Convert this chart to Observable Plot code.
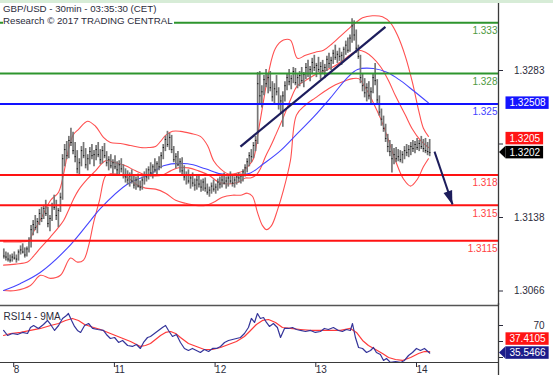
<!DOCTYPE html>
<html><head><meta charset="utf-8">
<script src="https://cdn.jsdelivr.net/npm/d3@7"></script>
<script src="https://cdn.jsdelivr.net/npm/@observablehq/plot@0.6"></script>
<style>
html,body{margin:0;padding:0;background:#fff;}
#wrap{position:relative;width:553px;height:375px;overflow:hidden;font-family:"Liberation Sans",Arial,sans-serif;}
#band{position:absolute;left:0;top:0;width:553px;height:3px;background:#d7ecd7;}
#title{position:absolute;left:3px;top:2.75px;background:#fff;font-size:9.7px;line-height:12.5px;color:#2b2b3b;padding-right:1px;}
#main{position:absolute;left:0;top:0;}
#rsi{position:absolute;left:0;top:303px;}
</style></head><body>
<div id="wrap"><div id="main"></div><div id="rsi"></div><div id="band"></div><div id="title"></div></div>
<script>
const titleLines = ["GBP/USD - 30min - 03:35:30 (CET)", "Research \u00a9 2017 TRADING CENTRAL"];
const rsiTitle = "RSI14 - 9MA";
const dayTicks = [0, 48, 96, 144, 192];
const dayLabels = ["8", "11", "12", "13", "14"];
const priceTicks = [1.3283, 1.32105, 1.3138, 1.30655];
const priceTickLabels = ["1.3283", "", "1.3138", "1.3066"];
const rsiTicks = [70, 50, 30];
const rsiTickLabels = ["70", "", ""];

const firstBar = -4;
const highs = [1.3107,1.3104,1.3103,1.3101,1.3102,1.3104,1.3101,1.3106,1.3110,1.3112,1.3108,1.3109,1.3118,
1.3130,1.3135,1.3140,1.3137,1.3146,1.3148,
1.3150,1.3155,1.3148,1.3140,1.3152,1.3160,1.3155,1.3147,1.3162,1.3200,
1.3210,1.3213,1.3218,1.3226,1.3222,1.3212,
1.3204,1.3196,1.3208,1.3212,1.3206,1.3200,1.3207,
1.3210,1.3204,1.3209,1.3212,1.3205,1.3208,1.3211,1.3203,
1.3198,1.3200,1.3195,1.3199,1.3193,1.3194,1.3196,1.3190,1.3186,
1.3184,1.3182,1.3185,1.3180,1.3178,1.3181,1.3174,1.3178,1.3183,1.3186,
1.3188,1.3192,1.3190,1.3196,1.3193,1.3198,1.3202,
1.3210,1.3218,1.3223,1.3221,1.3219,
1.3208,1.3201,1.3203,1.3196,1.3197,1.3189,
1.3183,1.3185,1.3180,1.3182,1.3176,1.3179,1.3180,1.3175,1.3176,
1.3177,1.3171,1.3168,1.3172,1.3175,1.3171,1.3176,1.3178,
1.3179,1.3182,1.3178,1.3180,1.3183,1.3179,1.3178,1.3181,1.3182,1.3181,1.3185,1.3190,
1.3196,1.3202,1.3205,1.3212,1.3218,
1.3281,
1.3282,1.3268,1.3278,1.3284,1.3280,1.3282,1.3272,
1.3270,1.3278,1.3266,1.3258,1.3262,
1.3272,1.3280,1.3284,1.3278,1.3286,1.3285,1.3279,
1.3282,1.3286,1.3281,1.3290,1.3293,1.3287,1.3295,1.3298,1.3290,1.3296,1.3291,1.3293,1.3289,1.3297,1.3300,1.3296,
1.3303,1.3308,1.3302,1.3305,1.3301,1.3306,1.3312,1.3315,1.3318,
1.3334,1.3332,
1.3323,1.3308,
1.3298,1.3280,
1.3275,1.3270,1.3272,1.3266,1.3280,
1.3290,
1.3274,1.3258,1.3245,1.3238,
1.3230,1.3220,1.3214,
1.3210,1.3206,1.3207,
1.3205,1.3204,1.3203,1.3208,1.3210,1.3209,
1.3212,1.3214,1.3213,1.3216,1.3214,1.3218,1.3215,1.3216,1.3212,1.3215];
const lows = [1.3097,1.3095,1.3094,1.3093,1.3094,1.3096,1.3093,1.3095,1.3101,1.3102,1.3098,1.3099,1.3103,
1.3108,1.3120,1.3125,1.3122,1.3130,1.3133,
1.3136,1.3139,1.3128,1.3124,1.3134,1.3145,1.3135,1.3128,1.3143,1.3155,
1.3188,1.3195,1.3196,1.3208,1.3200,1.3192,
1.3181,1.3180,1.3188,1.3196,1.3186,1.3184,1.3190,
1.3195,1.3188,1.3194,1.3197,1.3190,1.3191,1.3196,1.3188,
1.3184,1.3186,1.3181,1.3185,1.3179,1.3180,1.3182,1.3176,1.3172,
1.3170,1.3168,1.3171,1.3166,1.3165,1.3167,1.3164,1.3165,1.3170,1.3173,
1.3175,1.3178,1.3176,1.3182,1.3180,1.3184,1.3186,
1.3195,1.3203,1.3207,1.3204,1.3201,
1.3192,1.3186,1.3188,1.3182,1.3180,1.3174,
1.3170,1.3171,1.3166,1.3168,1.3164,1.3165,1.3167,1.3163,1.3164,
1.3163,1.3160,1.3158,1.3161,1.3163,1.3161,1.3164,1.3166,
1.3167,1.3170,1.3166,1.3168,1.3171,1.3168,1.3167,1.3170,1.3172,1.3171,1.3173,1.3178,
1.3182,1.3188,1.3192,1.3196,1.3203,
1.3210,
1.3250,1.3246,1.3258,1.3266,1.3260,1.3262,1.3252,
1.3250,1.3258,1.3244,1.3240,1.3227,
1.3252,1.3263,1.3268,1.3264,1.3270,1.3268,1.3265,
1.3267,1.3270,1.3266,1.3274,1.3276,1.3272,1.3279,1.3282,1.3276,1.3281,1.3274,1.3279,1.3275,1.3282,1.3285,1.3283,
1.3289,1.3293,1.3290,1.3292,1.3288,1.3293,1.3298,1.3300,1.3301,
1.3310,1.3312,
1.3300,1.3294,
1.3270,1.3262,
1.3256,1.3252,1.3254,1.3250,1.3260,
1.3268,
1.3250,1.3238,1.3228,1.3222,
1.3212,1.3202,1.3198,
1.3182,1.3190,1.3192,
1.3193,1.3192,1.3191,1.3195,1.3198,1.3197,
1.3199,1.3202,1.3201,1.3204,1.3203,1.3205,1.3202,1.3201,1.3199,1.3198];
const closes = [1.3100,1.3099,1.3097,1.3096,1.3099,1.3098,1.3097,1.3104,1.3106,1.3104,1.3101,1.3107,1.3115,
1.3126,1.3131,1.3128,1.3134,1.3142,1.3137,
1.3147,1.3142,1.3132,1.3137,1.3150,1.3148,1.3140,1.3145,1.3158,1.3196,
1.3205,1.3199,1.3214,1.3212,1.3204,1.3198,
1.3186,1.3192,1.3204,1.3199,1.3190,1.3196,1.3203,
1.3199,1.3200,1.3205,1.3200,1.3195,1.3204,1.3199,1.3192,
1.3195,1.3189,1.3192,1.3188,1.3185,1.3190,1.3186,1.3180,1.3178,
1.3175,1.3179,1.3174,1.3170,1.3175,1.3169,1.3168,1.3175,1.3180,1.3178,
1.3185,1.3182,1.3188,1.3185,1.3191,1.3188,1.3199,
1.3207,1.3215,1.3210,1.3217,1.3205,
1.3195,1.3198,1.3190,1.3193,1.3184,1.3178,
1.3180,1.3174,1.3177,1.3172,1.3170,1.3175,1.3171,1.3168,1.3173,
1.3167,1.3163,1.3165,1.3169,1.3166,1.3168,1.3173,1.3171,
1.3175,1.3172,1.3174,1.3177,1.3174,1.3172,1.3175,1.3178,1.3177,1.3179,1.3183,1.3187,
1.3193,1.3199,1.3198,1.3209,1.3214,
1.3270,
1.3258,1.3262,1.3274,1.3270,1.3276,1.3266,1.3257,
1.3265,1.3262,1.3250,1.3253,1.3258,
1.3268,1.3276,1.3272,1.3275,1.3282,1.3271,1.3276,
1.3278,1.3273,1.3279,1.3286,1.3280,1.3284,1.3291,1.3286,1.3288,1.3284,1.3287,1.3283,1.3286,1.3294,1.3290,1.3293,
1.3300,1.3296,1.3299,1.3297,1.3298,1.3304,1.3308,1.3303,1.3315,
1.3327,1.3318,
1.3305,1.3297,
1.3276,1.3268,
1.3261,1.3266,1.3258,1.3262,1.3276,
1.3273,
1.3254,1.3242,1.3235,1.3226,
1.3216,1.3208,1.3203,
1.3196,1.3200,1.3196,
1.3198,1.3195,1.3200,1.3204,1.3202,1.3205,
1.3208,1.3206,1.3210,1.3207,1.3211,1.3208,1.3206,1.3204,1.3203,1.3202];

const upperBand = [[-4.1,1.3114],[4.0,1.3114],[7.8,1.3115],[10.2,1.3124],[13.5,1.3136],[18.3,1.3155],[22.1,1.3163],[24.5,1.3181],[26.8,1.3205],[29.2,1.3220],[31.6,1.3225],[35.9,1.3233],[39.7,1.3228],[43.5,1.3217],[46.8,1.3212],[51.6,1.3211],[56.4,1.3209],[61.1,1.3207],[64.9,1.3207],[68.3,1.3208],[70.7,1.3213],[73.1,1.3219],[76.4,1.3223],[80.2,1.3223],[85.0,1.3221],[89.7,1.3218],[93.1,1.3209],[96.0,1.3194],[99.3,1.3186],[103.1,1.3181],[107.4,1.3182],[110.2,1.3184],[112.6,1.3189],[115.0,1.3196],[117.4,1.3224],[119.8,1.3253],[122.2,1.3281],[125.5,1.3305],[129.3,1.3313],[132.6,1.3313],[136.0,1.3295],[139.8,1.3298],[144.5,1.3301],[148.4,1.3303],[151.7,1.3308],[156.5,1.3317],[160.3,1.3324],[163.6,1.3330],[167.0,1.3335],[171.7,1.3337],[176.5,1.3336],[180.3,1.3330],[183.6,1.3318],[187.4,1.3297],[190.8,1.3271],[193.7,1.3244],[196.0,1.3226],[198.4,1.3218]];
const middleBand = [[-4.1,1.3091],[1.6,1.3092],[7.3,1.3094],[10.2,1.3100],[13.5,1.3108],[18.3,1.3119],[21.6,1.3127],[24.5,1.3135],[26.8,1.3145],[29.2,1.3156],[31.6,1.3165],[35.9,1.3176],[39.7,1.3184],[44.5,1.3194],[49.2,1.3192],[54.0,1.3189],[58.8,1.3184],[63.5,1.3180],[68.3,1.3179],[71.6,1.3180],[75.5,1.3184],[79.3,1.3187],[84.0,1.3187],[88.8,1.3184],[93.6,1.3180],[98.3,1.3173],[103.1,1.3171],[107.9,1.3173],[111.2,1.3177],[113.6,1.3177],[116.4,1.3180],[118.3,1.3186],[120.7,1.3198],[123.1,1.3208],[125.5,1.3219],[129.3,1.3237],[132.6,1.3254],[136.0,1.3268],[139.8,1.3273],[144.5,1.3279],[149.3,1.3283],[154.1,1.3288],[158.9,1.3295],[162.2,1.3300],[165.1,1.3303],[168.4,1.3301],[171.7,1.3296],[175.5,1.3287],[179.4,1.3273],[182.7,1.3258],[187.4,1.3239],[190.8,1.3225],[194.6,1.3214],[198.4,1.3207]];
const lowerBand = [[-4.1,1.3066],[1.6,1.3066],[8.7,1.3071],[13.5,1.3081],[18.3,1.3078],[23.0,1.3081],[27.8,1.3098],[31.1,1.3094],[34.0,1.3096],[36.4,1.3110],[38.8,1.3133],[41.6,1.3155],[44.5,1.3179],[46.8,1.3181],[51.6,1.3180],[55.4,1.3177],[58.8,1.3171],[63.5,1.3167],[68.3,1.3166],[73.1,1.3162],[77.9,1.3155],[82.6,1.3152],[87.4,1.3150],[92.1,1.3150],[96.0,1.3153],[100.2,1.3158],[105.0,1.3160],[108.8,1.3160],[112.1,1.3162],[114.5,1.3159],[116.9,1.3143],[119.3,1.3130],[121.2,1.3126],[123.6,1.3130],[126.4,1.3145],[129.3,1.3165],[132.6,1.3194],[135.5,1.3239],[139.8,1.3249],[144.5,1.3256],[149.3,1.3263],[154.1,1.3269],[158.9,1.3273],[162.2,1.3275],[165.1,1.3275],[168.4,1.3266],[171.7,1.3253],[175.5,1.3236],[179.4,1.3214],[182.7,1.3194],[186.5,1.3176],[189.9,1.3169],[193.2,1.3176],[196.0,1.3188],[198.4,1.3196]];
const blueMA = [[-4.1,1.3066],[4.0,1.3073],[13.5,1.3084],[26.4,1.3108],[37.3,1.3135],[42.1,1.3147],[55.0,1.3171],[65.9,1.3181],[72.1,1.3189],[83.6,1.3191],[92.1,1.3186],[99.3,1.3181],[106.4,1.3180],[113.6,1.3182],[119.8,1.3191],[127.9,1.3204],[136.0,1.3221],[143.6,1.3237],[151.7,1.3256],[159.8,1.3276],[164.6,1.3284],[172.2,1.3285],[178.9,1.3281],[185.1,1.3273],[191.3,1.3263],[198.4,1.3251]];

const levelPrices = [1.333, 1.328, 1.325, 1.318, 1.315, 1.3115];
const levelLabels = ["1.333", "1.328", "1.325", "1.318", "1.315", "1.3115"];
const levelKinds = ["resistance", "resistance", "pivot", "support", "support", "support"];
const trendLine = [[108.8, 1.3208], [177.9, 1.3326]];
const targetArrow = [[201.3, 1.3203], [209.9, 1.3151]];
const priceTagValues = [1.3202, 1.3205];
const priceTagLabels = ["1.3202", "1.3205"];
const pivotTagValue = 1.32508, pivotTagLabel = "1.32508";

const rsi14 = [[-4.1,63.8],[-2.2,57.5],[0.1,60.0],[2.5,58.8],[4.9,61.3],[7.3,60.0],[8.7,67.5],[10.2,70.0],[12.5,66.3],[14.9,71.3],[16.8,76.3],[18.3,71.3],[20.2,63.8],[22.1,70.0],[24.0,78.8],[25.9,82.5],[26.8,85.0],[28.3,76.3],[29.7,68.8],[31.1,63.8],[32.6,61.3],[34.5,70.0],[36.4,72.5],[38.3,66.3],[40.7,65.0],[43.5,63.8],[44.9,58.8],[46.8,53.8],[48.8,55.0],[50.7,48.8],[52.6,51.3],[55.0,45.0],[57.3,43.8],[59.2,46.3],[61.1,41.3],[62.6,48.8],[64.5,55.0],[65.9,56.3],[67.8,60.0],[69.7,63.8],[71.6,67.5],[73.1,70.0],[74.5,63.8],[76.4,56.3],[78.3,58.8],[80.2,48.8],[82.1,41.3],[84.0,38.8],[85.9,41.3],[87.8,38.8],[89.7,36.3],[91.6,40.0],[93.6,37.5],[95.5,41.3],[97.4,41.3],[99.3,43.8],[101.2,48.8],[103.1,51.3],[105.0,52.5],[106.9,53.8],[108.8,55.0],[110.7,60.0],[112.6,67.5],[114.0,78.8],[115.5,73.8],[116.9,85.0],[118.3,78.8],[119.8,80.0],[121.2,73.8],[122.6,68.8],[124.5,72.5],[126.4,67.5],[127.9,55.0],[129.8,66.3],[131.7,66.3],[133.6,67.5],[135.5,65.0],[137.4,63.8],[139.8,62.5],[142.2,63.8],[144.5,61.3],[146.9,62.5],[148.8,66.3],[150.7,65.0],[153.1,67.5],[155.5,63.8],[157.4,62.5],[159.3,65.0],[161.2,63.8],[162.2,72.5],[163.6,55.0],[165.1,42.5],[167.0,41.3],[168.9,36.3],[170.8,38.8],[172.2,42.5],[173.6,36.3],[175.5,33.8],[177.0,26.3],[178.4,28.8],[180.3,23.8],[182.7,25.0],[185.1,23.8],[187.0,26.3],[188.9,32.5],[190.8,36.3],[192.7,41.3],[194.6,38.8],[196.5,41.3],[199.0,35.5466]];
const rsiMA9 = [[-4.1,57.5],[-0.8,60.0],[4.0,61.3],[8.7,63.8],[13.5,66.3],[18.3,70.0],[22.1,72.5],[25.4,76.3],[28.7,78.8],[31.6,76.3],[34.5,71.3],[37.3,68.8],[42.1,65.0],[46.8,60.0],[51.6,55.0],[56.4,50.0],[61.1,43.8],[63.5,45.0],[65.9,47.5],[68.3,52.5],[70.7,57.5],[73.1,61.3],[75.5,62.5],[77.9,60.0],[80.2,55.0],[84.0,47.5],[87.8,43.8],[91.6,40.0],[95.5,40.0],[99.3,42.5],[103.1,46.3],[106.9,50.0],[110.7,56.3],[113.6,63.8],[116.4,71.3],[119.3,76.3],[122.2,77.5],[125.5,73.8],[128.8,67.5],[132.6,66.3],[137.4,65.0],[142.2,63.8],[146.9,63.8],[151.7,63.8],[156.5,63.8],[161.2,66.3],[164.1,61.3],[167.0,51.3],[169.8,45.0],[173.2,40.0],[176.5,35.0],[179.4,30.0],[182.7,27.5],[186.0,26.3],[189.9,30.0],[193.7,35.0],[196.5,37.5],[199.0,37.4105]];
const rsiTagValues = [35.5466, 37.4105];
const rsiTagLabels = ["35.5466", "37.4105"];

// ---------- build ----------
const FONT = "'Liberation Sans', Arial, sans-serif";
const xDomain = [-5.58, 231.8];
const priceDomain = [1.30512, 1.33491];
const rsiDomain = [23.75, 95];
const levelColors = {resistance: ["#2e952e", "#4f9a3f"], pivot: ["#1212ff", "#4444ff"], support: ["#ff1212", "#ff4444"]};
const navy = "#1d1d5c";
const axisColor = "#3a3a3a";

document.getElementById("title").innerHTML = titleLines.join("<br>");

const bars = closes.map((c, k) => ({i: firstBar + k, high: highs[k], low: lows[k], close: c}));
const pts = arr => arr.map(([i, v]) => ({i, v}));
const levels = levelPrices.map((p, k) => ({price: p, label: levelLabels[k], kind: levelKinds[k]}));
const trend = {i1: trendLine[0][0], p1: trendLine[0][1], i2: trendLine[1][0], p2: trendLine[1][1]};
const arrow = {i1: targetArrow[0][0], p1: targetArrow[0][1], i2: targetArrow[1][0], p2: targetArrow[1][1]};

const mainPlot = Plot.plot({
  width: 553, height: 305, marginTop: 3, marginBottom: 0, marginLeft: 0, marginRight: 55,
  style: {fontFamily: FONT, fontSize: "10px", background: "transparent", color: "#2b2b3b"},
  x: {domain: xDomain, axis: null},
  y: {domain: priceDomain, axis: null},
  color: {type: "identity"},
  marks: [
    Plot.line(pts(upperBand), {x: "i", y: "v", stroke: "#ff5050", strokeWidth: 1.1, curve: "catmull-rom"}),
    Plot.line(pts(middleBand), {x: "i", y: "v", stroke: "#ff5050", strokeWidth: 1.1, curve: "catmull-rom"}),
    Plot.line(pts(lowerBand), {x: "i", y: "v", stroke: "#ff5050", strokeWidth: 1.1, curve: "catmull-rom"}),
    Plot.line(pts(blueMA), {x: "i", y: "v", stroke: "#4646ff", strokeWidth: 1.1, curve: "catmull-rom"}),
    Plot.ruleX(bars, {x: "i", y1: "low", y2: "high", stroke: "#767676", strokeWidth: 1.7}),
    Plot.ruleY(bars, {y: "close", x1: "i", x2: d => d.i + 0.6, stroke: "#111", strokeWidth: 1}),
    Plot.ruleY(levels, {y: "price", stroke: d => levelColors[d.kind][0], strokeWidth: 2}),
    Plot.text(levels, {y: "price", text: "label", frameAnchor: "right", textAnchor: "end", dx: -1, dy: 8, fill: d => levelColors[d.kind][1]}),
    Plot.link([trend], {x1: "i1", y1: "p1", x2: "i2", y2: "p2", stroke: navy, strokeWidth: 2.3}),
    Plot.link([arrow], {x1: "i1", y1: "p1", x2: "i2", y2: "p2", stroke: navy, strokeWidth: 2}),
    Plot.ruleX([xDomain[1]], {stroke: axisColor, strokeWidth: 1.3}),
    Plot.axisY({anchor: "right", label: null, ticks: priceTicks, tickFormat: d => priceTickLabels[priceTicks.indexOf(d)], tickSize: 4, tickPadding: 42, textAnchor: "end", color: "#2b2b3b"})
  ]
});
document.getElementById("main").appendChild(mainPlot);

function addTags(plot, values, labels, styles) {
  const sy = plot.scale("y");
  const svg = d3.select(plot);
  const left = 505.5, h = 12.5;
  let prevTop = Infinity;
  values.forEach((v, k) => {
    const st = styles[k];
    let cy = sy.apply(v);
    if (cy + h / 2 > prevTop - 1.5) cy = prevTop - 1.5 - h / 2;
    const g = svg.append("g").attr("text-anchor", "start");
    const txt = g.append("text").attr("x", left + 4).attr("y", cy).attr("dy", "0.35em").attr("text-anchor", "start")
      .attr("fill", st.color).attr("font-size", 10).attr("font-family", FONT).text(labels[k]);
    const w = txt.node().getComputedTextLength() + 7;
    g.insert("rect", "text").attr("x", left).attr("y", cy - h / 2).attr("width", w).attr("height", h).attr("fill", st.fill);
    if (st.arrow) g.insert("path", "text").attr("d", `M${left},${cy - h / 2}L${left - 6.5},${cy}L${left},${cy + h / 2}Z`).attr("fill", st.fill);
    prevTop = cy - h / 2;
  });
}
addTags(mainPlot, [pivotTagValue], [pivotTagLabel], [{fill: "#1414ff", color: "#fff"}]);
addTags(mainPlot, priceTagValues, priceTagLabels, [{fill: "#000", color: "#fff", arrow: true}, {fill: "#ff1414", color: "#fff"}]);

// arrow head
{
  const sx = mainPlot.scale("x"), sy = mainPlot.scale("y");
  const x1 = sx.apply(arrow.i1), y1 = sy.apply(arrow.p1), x2 = sx.apply(arrow.i2), y2 = sy.apply(arrow.p2);
  const len = Math.hypot(x2 - x1, y2 - y1), ux = (x2 - x1) / len, uy = (y2 - y1) / len;
  const hl = 13, hw = 4.5, bx = x2 - ux * hl, by = y2 - uy * hl;
  d3.select(mainPlot).append("path")
    .attr("d", `M${x2 + ux},${y2 + uy}L${bx - uy * hw},${by + ux * hw}L${bx + uy * hw},${by - ux * hw}Z`)
    .attr("fill", navy);
}

const rsiPlot = Plot.plot({
  width: 553, height: 72, marginTop: 2, marginBottom: 13, marginLeft: 0, marginRight: 55,
  style: {fontFamily: FONT, fontSize: "10px", background: "transparent", color: "#2b2b3b"},
  x: {domain: xDomain},
  y: {domain: rsiDomain, axis: null},
  marks: [
    Plot.ruleY([rsiDomain[1]], {stroke: "#555", strokeWidth: 1.5}),
    Plot.ruleY([rsiDomain[0]], {stroke: axisColor, strokeWidth: 1.2}),
    Plot.line(pts(rsiMA9), {x: "i", y: "v", stroke: "#ff3a3a", strokeWidth: 1.2, clip: true}),
    Plot.line(pts(rsi14), {x: "i", y: "v", stroke: "#35359a", strokeWidth: 1.2, clip: true}),
    Plot.ruleX([xDomain[1]], {stroke: axisColor, strokeWidth: 1.3, insetBottom: -13, insetTop: -2}),
    Plot.axisY({anchor: "right", label: null, ticks: rsiTicks, tickFormat: d => rsiTickLabels[rsiTicks.indexOf(d)], tickSize: 4, tickPadding: 42, textAnchor: "end", color: "#2b2b3b"}),
    Plot.axisX({anchor: "bottom", label: null, ticks: dayTicks, tickFormat: d => dayLabels[dayTicks.indexOf(d)], tickSize: 5, tickPadding: -2, textAnchor: "start", dx: 1.5, color: "#2b2b3b"}),
    Plot.text([rsiTitle], {frameAnchor: "top-left", dx: 3, dy: 7.5, fill: "#2b2b3b"})
  ]
});
document.getElementById("rsi").appendChild(rsiPlot);
addTags(rsiPlot, rsiTagValues, rsiTagLabels, [{fill: "#1c1c8a", color: "#fff", arrow: true}, {fill: "#ff1414", color: "#fff"}]);
</script>
</body></html>
